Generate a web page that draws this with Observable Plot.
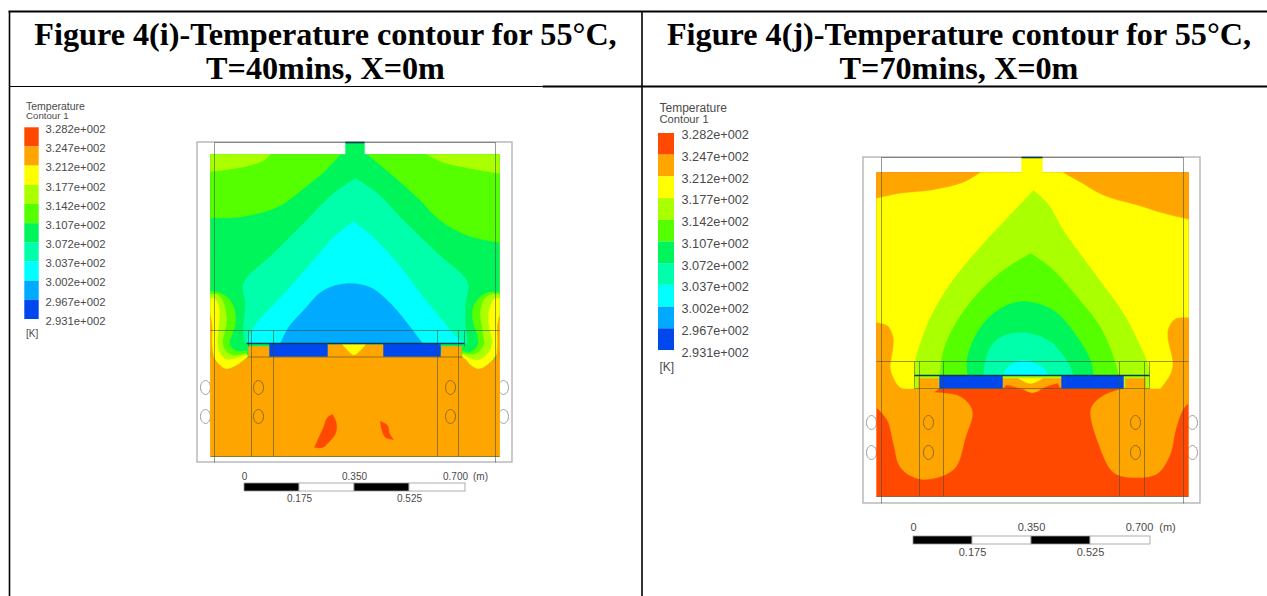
<!DOCTYPE html>
<html><head><meta charset="utf-8">
<style>html,body{margin:0;padding:0;background:#fff}svg{display:block}</style>
<script src="https://cdn.jsdelivr.net/npm/d3@7"></script>
<script src="https://cdn.jsdelivr.net/npm/@observablehq/plot@0.6"></script>
</head><body><script>
// Temperature bands, hottest first
const bandColors = ["#ff4800","#ffa500","#ffff00","#aaff00","#55ff00","#00f55a","#00ffaa","#00ffff","#00aaff","#0048ee"];
const [RED,ORG,YEL,YGR,LGR,MGR,TEA,CYA,SKY,BLU] = bandColors;
const tickLabels = ["3.282e+002","3.247e+002","3.212e+002","3.177e+002","3.142e+002","3.107e+002","3.072e+002","3.037e+002","3.002e+002","2.967e+002","2.931e+002"];
const scaleMetres = ["0","0.175","0.350","0.525","0.700"];

// Left panel contour outlines (T=40 mins), painted in order, drawing-plane units
const leftContours = [
 [ORG,[[210,154],[499,154],[499,456],[210,456]]],
 [MGR,[[210,154],[499,154],[499,358],[210,358]]],
 [MGR,[[345,142],[364,142],[364,155],[345,155]]],
 [LGR,[[210,154],[340,154],[323,172],[303,188],[280,205],[257,213],[233,217],[210,217]]],
 [LGR,[[367,154],[499,154],[499,242],[467,235],[440,220],[417,197],[390,173]]],
 [YGR,[[210,154],[270,154],[263,160],[240,167],[210,171]]],
 [YGR,[[427,154],[499,154],[499,173],[470,168],[443,162]]],
 [TEA,[[355,178],[333,193],[303,223],[273,253],[243,283],[245,303],[243,330],[245,343],[467,343],[465,327],[465,303],[467,282],[437,253],[403,220],[377,193]]],
 [CYA,[[353,221],[333,237],[307,267],[280,297],[253,327],[247,343],[463,343],[453,333],[423,297],[397,263],[373,237]]],
 [SKY,[[347,283],[323,290],[303,310],[288,327],[280,343],[422,343],[410,327],[390,303],[370,287]]],
 // lower left lobe
 [LGR,[[210,291],[218,292],[228,298],[234,309],[235,323],[232,333],[229,342],[232,348],[238,351],[246,350],[247,356],[235,365],[225,368],[215,362],[210,350]]],
 [YGR,[[210,294],[217,294],[222,300],[225,310],[226,322],[224,332],[222,342],[225,350],[233,355],[246,353],[247,356],[235,365],[225,368],[215,362],[210,350]]],
 [YEL,[[210,298],[214,298],[218,305],[219,315],[218,328],[217,342],[219,352],[226,359],[235,358],[246,354],[247,356],[235,365],[225,368],[215,362],[210,350]]],
 // lower right lobe
 [LGR,[[499,292],[488,292],[478,298],[472,310],[473,323],[477,335],[478,343],[475,348],[468,352],[462,350],[462,356],[470,364],[478,368],[488,363],[499,350]]],
 [YGR,[[499,294],[490,294],[483,300],[480,312],[481,323],[483,335],[484,343],[480,350],[473,354],[462,353],[462,356],[470,364],[478,368],[488,363],[499,350]]],
 [YEL,[[499,298],[494,298],[490,305],[488,315],[489,328],[492,342],[488,352],[480,359],[472,359],[462,354],[462,356],[470,364],[478,368],[488,363],[499,350]]],
 // warm floor
 [ORG,[[210,315],[211.5,325],[211.5,345],[214,358],[221,366],[229,370],[238,366],[248,357],[462,357],[470,365],[480,370],[489,366],[495,358],[497,345],[497,325],[499,315],[499,456],[210,456]]],
 // collector blocks
 [ORG,[[248,346],[269,346],[269,357],[248,357]]],
 [ORG,[[327,344],[383,344],[383,357],[327,357]]],
 [ORG,[[441,346],[461,346],[461,357],[441,357]]],
 [YEL,[[342,344],[352,354],[355,354],[365,344]]],
 [BLU,[[269,343],[327,343],[327,356],[269,356]]],
 [BLU,[[383,343],[440,343],[440,356],[383,356]]],
 [RED,[[332,414],[336,423],[335,433],[328,442],[322,447],[314,447],[318,438],[323,427],[327,417]]],
 [RED,[[380,421],[387,425],[389,433],[393,439],[385,437],[381,428]]]
];

// Right panel contour outlines (T=70 mins)
const rightContours = [
 [RED,[[876,172],[1188,172],[1188,496],[876,496]]],
 [ORG,[[876,172],[1188,172],[1188,403],[1183,408],[1175,430],[1170,453],[1157,473],[1133,477],[1113,472],[1098,443],[1090,413],[1092,405],[1103,395],[1123,388],[939,388],[933,392],[957,395],[968,403],[972,413],[965,437],[955,467],[937,477],[917,478],[900,467],[893,443],[887,420],[876,407]]],
 [YEL,[[1021,157],[1042,157],[1042,173],[1021,173]]],
 [YEL,[[980,172],[963,182],[930,190],[900,193],[876,198],[876,322],[887,325],[893,337],[892,353],[890,367],[893,377],[900,387],[915,388],[1149,388],[1160,388],[1170,373],[1172,362],[1167,337],[1168,327],[1175,318],[1188,317],[1188,219],[1163,213],[1137,205],[1103,195],[1080,182],[1062,172]]],
 [YGR,[[1033,190],[1017,207],[983,243],[950,283],[930,317],[920,343],[915,360],[915,388],[1148,388],[1148,367],[1137,340],[1123,313],[1097,277],[1063,230],[1047,203]]],
 [LGR,[[1030,253],[1007,267],[983,287],[957,320],[943,350],[940,375],[1118,375],[1113,357],[1100,327],[1077,297],[1050,267]]],
 [MGR,[[1022,301],[997,310],[978,330],[967,357],[967,375],[1093,375],[1090,360],[1077,337],[1053,310]]],
 [TEA,[[1020,332],[998,338],[987,353],[983,375],[1073,375],[1068,363],[1053,343],[1037,335]]],
 [CYA,[[1003,375],[1007,367],[1020,360],[1033,362],[1045,370],[1047,375]]],
 [ORG,[[918,378],[938,378],[938,388],[918,388]]],
 [ORG,[[1125,378],[1145,378],[1145,388],[1125,388]]],
 [ORG,[[1002,378],[1061,378],[1061,388],[1040,389],[1032,392],[1023,389],[1002,388]]],
 [RED,[[1003,388],[1006,385],[1015,387],[1023,389]]],
 [RED,[[1060,388],[1057,383],[1047,386],[1040,389]]],
 [YEL,[[1018,378],[1030,383],[1042,378]]],
 ["#ffc000",[[1025,390],[1032,392],[1039,390]]],
 [BLU,[[939,375],[1002,375],[1002,388],[939,388]]],
 [BLU,[[1061,375],[1123,375],[1123,388],[1061,388]]]
];

// Walls of the domain: outlines keep sharp corners where they touch these
const wallX = [210,499,876,1188];
const wallY = [154,172,343,375,388,456,496];

// Mesh holes
const holeOutline = [[0,-7],[3.5,-5],[5,0],[3.5,5],[0,7],[-3.5,5],[-5,0],[-3.5,-5]];
const outerHoles = [[205,387],[205,416],[503,387],[503,416],[871,422],[871,452],[1192,422],[1192,452]];
const innerHoles = [[258,387],[258,416],[450,387],[450,416],[928,422],[928,452],[1135,422],[1135,452]];

// Thin mesh lines [x1,y1,x2,y2]
const meshLines = [
 [214,142,214,462],[495,142,495,462],[214,142,495,142],[210,330,499,330],
 [251,330,251,456],[273,330,273,456],[437,330,437,456],[458,330,458,456],
 [248,330,248,346],[464,330,464,346],[248,356.5,462,356.5],[210,456,499,456],
 [881,157,881,503],[1183,157,1183,503],[881,157,1183,157],[876,361,1188,361],
 [919,361,919,496],[943,361,943,496],[1119,361,1119,496],[1144,361,1144,496],
 [914,361,914,388],[1149,361,1149,388],[914,388,1149,388],[876,496,1188,496]
];
const darkLines = [[246,343,464,343],[345,142,364,142],[914,375,1149,375],[1021,157,1042,157]];
const outerBoxes = [[197,142,512,462],[863,157,1200,503]];

// Table rules [x1,y1,x2,y2,weight] and headings
const tableRules = [[8,11,1267,11,2],[9,86,542,86,1.2],[542,86,1267,86,2],[9,11,9,596,1.6],[641.5,11,641.5,596,1.6]];
const headings = [
 [325,34.5,"Figure 4(i)-Temperature contour for 55°C,"],[325,68.5,"T=40mins, X=0m"],
 [958.5,34.5,"Figure 4(j)-Temperature contour for 55°C,"],[958.5,68.5,"T=70mins, X=0m"]
];

// Legend & scale bar placements
const legends = [
 {x1:24.3,x2:38.7,top:127.3,step:19.17,labelX:45,labelTop:129,labelStep:19.17,size:11.3,tx:25.5,ty1:106,ty2:115.5,tsize:10.5,ksize:10,ky:333},
 {x1:658,x2:674,top:133,step:21.7,labelX:681,labelTop:134.5,labelStep:21.75,size:12.7,tx:659,ty1:108,ty2:119,tsize:12,ksize:12,ky:367}
];
const scales = [
 {xs:[244,299,354,409,465],top:483,bottom:491,upY:476,lowY:498,mX:480,size:10},
 {xs:[913,972,1031,1090,1150],top:536,bottom:544,upY:527,lowY:552,mX:1167,size:11}
];

// A vertex on a wall or turning sharply is doubled so the smooth closed curve keeps it as a corner
const corners = pts => pts.flatMap((p,i) => {
 const a = pts[(i+pts.length-1)%pts.length], b = pts[(i+1)%pts.length];
 const t = Math.abs(Math.atan2(p[1]-a[1],p[0]-a[0]) - Math.atan2(b[1]-p[1],b[0]-p[0])) * 180/Math.PI;
 const turn = t > 180 ? 360-t : t;
 return (turn > 62 || wallX.includes(p[0]) || wallY.includes(p[1])) ? [p,p] : [p];
});
let id = 0;
const polys = [...leftContours, ...rightContours].flatMap(([color,pts]) => { id++; return corners(pts).map(([x,y]) => ({x,y,color,id})); });
const ringRows = list => list.flatMap(([cx,cy],i) => holeOutline.map(([dx,dy]) => ({x:cx+dx,y:cy+dy,i})));
const link = arr => arr.map(([x1,y1,x2,y2,w]) => ({x1,y1,x2,y2,w}));

const legendCells = legends.flatMap(l => bandColors.map((c,i) => ({x1:l.x1,x2:l.x2,y1:l.top+i*l.step,y2:l.top+(i+1)*l.step,c})));
const legendTicks = legends.flatMap(l => tickLabels.map((t,i) => ({x:l.labelX,y:l.labelTop+i*l.labelStep,t,size:l.size})));
const legendTitles = legends.flatMap(l => [
 {x:l.tx,y:l.ty1,t:"Temperature",size:l.tsize},{x:l.tx,y:l.ty2,t:"Contour 1",size:l.tsize-0.8},{x:l.tx,y:l.ky,t:"[K]",size:l.ksize}]);
const scaleCells = scales.flatMap(s => [0,1,2,3].map(i => ({x1:s.xs[i],x2:s.xs[i+1],y1:s.top,y2:s.bottom,c:i%2?"#fff":"#000"})));
const scaleText = scales.flatMap(s => [
 ...scaleMetres.map((t,i) => ({x:s.xs[i]-(i==4?s.size:0),y:i%2?s.lowY:s.upY,t,size:s.size})),
 {x:s.mX,y:s.upY,t:"(m)",size:s.size}]);

const sans = "Liberation Sans, Arial, sans-serif";
const textGrey = "#4a4a4a";
const chart = Plot.plot({
 width:1267,height:596,margin:0,
 x:{domain:[0,1267],range:[0,1267],axis:null},
 y:{domain:[0,596],range:[0,596],axis:null},
 style:{background:"#fff"},
 marks:[
  Plot.rect(outerBoxes.map(([x1,y1,x2,y2])=>({x1,y1,x2,y2})),{x1:"x1",y1:"y1",x2:"x2",y2:"y2",fill:"#fff",stroke:"#b5b5b5",strokeWidth:1.4}),
  Plot.line(ringRows(outerHoles),{x:"x",y:"y",z:"i",curve:"catmull-rom-closed",fill:"#fff",stroke:"#999",strokeWidth:1}),
  Plot.line(polys,{x:"x",y:"y",z:"id",curve:"catmull-rom-closed",fill:"color",stroke:"color",strokeWidth:0.4,imageFilter:"blur(0.7px)"}),
  Plot.line(ringRows(innerHoles),{x:"x",y:"y",z:"i",curve:"catmull-rom-closed",fill:"none",stroke:"#6b5a30",strokeWidth:1,strokeOpacity:.8}),
  Plot.link(link(meshLines),{x1:"x1",y1:"y1",x2:"x2",y2:"y2",stroke:"#3a4a3a",strokeWidth:0.9,strokeOpacity:.6}),
  Plot.link(link(darkLines),{x1:"x1",y1:"y1",x2:"x2",y2:"y2",stroke:"#0a3a55",strokeWidth:1.6}),
  Plot.rect(legendCells,{x1:"x1",x2:"x2",y1:"y1",y2:"y2",fill:"c"}),
  Plot.text(legendTicks,{x:"x",y:"y",text:"t",fontSize:"size",textAnchor:"start",fontFamily:sans,fill:textGrey}),
  Plot.text(legendTitles,{x:"x",y:"y",text:"t",fontSize:"size",textAnchor:"start",fontFamily:sans,fill:textGrey}),
  Plot.rect(scaleCells,{x1:"x1",x2:"x2",y1:"y1",y2:"y2",fill:"c",stroke:"#999",strokeWidth:.8}),
  Plot.text(scaleText,{x:"x",y:"y",text:"t",fontSize:"size",fontFamily:sans,fill:textGrey}),
  Plot.link(link(tableRules),{x1:"x1",y1:"y1",x2:"x2",y2:"y2",stroke:"#000",strokeWidth:"w"}),
  Plot.text(headings,{x:d=>d[0],y:d=>d[1],text:d=>d[2],fontSize:32.2,fontWeight:"bold",fontFamily:"Liberation Serif, Times New Roman, serif",fill:"#000"})
 ]
});
document.body.appendChild(chart);
</script></body></html>
